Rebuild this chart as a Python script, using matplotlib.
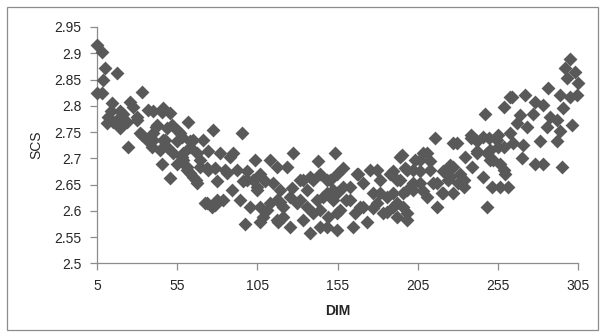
import matplotlib
matplotlib.use("Agg")
import matplotlib.pyplot as plt
from matplotlib.patches import Rectangle

x_ticks = [5, 55, 105, 155, 205, 255, 305]
y_ticks = [2.5, 2.55, 2.6, 2.65, 2.7, 2.75, 2.8, 2.85, 2.9, 2.95]
y_tick_labels = ["2.5", "2.55", "2.6", "2.65", "2.7", "2.75", "2.8", "2.85", "2.9", "2.95"]
x_label = "DIM"
y_label = "SCS"

# DIM, SCS pairs, grouped by DIM range
dim_a = [5, 7.9, 10, 17.3, 8.9, 5, 7.9, 32.9, 14.2, 25.6, 27.7, 37, 12, 21.4, 29.7, 11, 17.3, 23.5,
         19.3, 31.8, 36, 39.1, 24.5, 19.3, 29.7, 14, 15, 33, 40, 40]
scs_a = [2.916, 2.903, 2.871, 2.862, 2.849, 2.824, 2.824, 2.827, 2.805, 2.808, 2.798, 2.792, 2.779,
         2.785, 2.779, 2.767, 2.773, 2.77, 2.757, 2.748, 2.735, 2.722, 2.722, 2.79, 2.773, 2.79, 2.77,
         2.745, 2.79, 2.748]

dim_b = [46.4, 50.5, 62, 42.2, 48.5, 55.7, 40.1, 47.4, 54.7, 63, 71.3, 77.5, 44.3, 52.6, 58.8, 67.1,
         74.3, 45.3, 54.7, 61, 69.3, 74.3, 50.5, 65, 72.4, 76.5, 46.4, 48.5, 57.8, 61, 57.8, 65, 67, 63,
         56.8, 58.7, 63, 67.2, 73.4, 69.3, 42, 45.3, 51.6]
scs_b = [2.795, 2.786, 2.77, 2.763, 2.757, 2.751, 2.735, 2.735, 2.732, 2.732, 2.735, 2.754, 2.716,
         2.71, 2.71, 2.71, 2.713, 2.69, 2.69, 2.678, 2.684, 2.678, 2.662, 2.665, 2.614, 2.608, 2.735,
         2.722, 2.703, 2.683, 2.74, 2.735, 2.659, 2.672, 2.748, 2.697, 2.722, 2.653, 2.681, 2.697,
         2.76, 2.788, 2.763]

dim_c = [95.2, 81.7, 88, 103.6, 112.9, 78.6, 84.8, 92.1, 98.4, 106.7, 79.7, 96.3, 102.5, 109.8, 89,
         104.6, 79.7, 83.8, 94.2, 100.4, 106.7, 112.9, 108.8, 97.3, 106.7, 90, 85.9, 78.6, 98.4, 73.4,
         115, 117.1, 119.2, 104.6, 110.9, 117.1, 118.1, 117.1]
scs_c = [2.748, 2.71, 2.703, 2.697, 2.697, 2.681, 2.678, 2.678, 2.675, 2.671, 2.656, 2.656, 2.659,
         2.656, 2.64, 2.64, 2.62, 2.62, 2.62, 2.608, 2.608, 2.614, 2.589, 2.575, 2.578, 2.71, 2.672,
         2.611, 2.659, 2.615, 2.652, 2.684, 2.64, 2.646, 2.602, 2.62, 2.579, 2.583]

dim_d = [127.5, 143, 123.3, 133.7, 140, 148.3, 126.5, 146.2, 152.4, 119.2, 129.6, 135.8, 144.1, 121.2,
         133.7, 140, 149.3, 125.4, 137.9, 148.3, 153.5, 154.5, 158.7, 152.4, 154.5, 154.5, 131.6,
         137.9, 144.1, 150.4, 135.8, 142, 148.3, 154.5, 125.4, 131.6, 156.6, 158.7, 121.2, 144.1]
scs_d = [2.71, 2.694, 2.684, 2.659, 2.659, 2.659, 2.643, 2.627, 2.64, 2.617, 2.614, 2.608, 2.602,
         2.589, 2.583, 2.595, 2.589, 2.57, 2.557, 2.57, 2.71, 2.671, 2.646, 2.62, 2.595, 2.563, 2.659,
         2.665, 2.671, 2.659, 2.64, 2.62, 2.633, 2.633, 2.627, 2.62, 2.602, 2.681, 2.608, 2.57]

dim_e = [168, 175.3, 181.5, 187.7, 171.2, 177.4, 185.7, 162.8, 171.2, 179.5, 189.8, 166, 183.5, 164.9,
         173.2, 162.8, 167, 179.4, 191.9, 198.1, 194, 195, 197.1, 189.8, 194.2, 198.1, 189.8, 192,
         196.1, 198.2, 191.9, 185.7, 177.4, 169, 196, 160, 181.5, 198.2]
scs_e = [2.671, 2.678, 2.659, 2.671, 2.652, 2.633, 2.627, 2.62, 2.608, 2.614, 2.608, 2.595, 2.595,
         2.57, 2.579, 2.646, 2.671, 2.678, 2.659, 2.678, 2.703, 2.706, 2.681, 2.675, 2.659, 2.64, 2.633,
         2.614, 2.608, 2.595, 2.589, 2.598, 2.605, 2.608, 2.633, 2.62, 2.633, 2.583]

dim_f = [215.9, 227.3, 208.5, 203.3, 212.7, 206.5, 221, 225.3, 202.3, 214.8, 224.2, 208.5, 219.9,
         216.9, 238, 229.4, 234.6, 227.3, 238.7, 230.3, 227.3, 238.1, 231.4, 223.1, 202.3, 212.8,
         206.5, 216.9, 225.3, 233.6, 221, 233.6, 202.3, 210.6, 210.6, 206.5]
scs_f = [2.738, 2.729, 2.71, 2.697, 2.694, 2.675, 2.675, 2.687, 2.652, 2.652, 2.659, 2.637, 2.633,
         2.608, 2.738, 2.729, 2.703, 2.684, 2.684, 2.652, 2.633, 2.744, 2.671, 2.678, 2.678, 2.678,
         2.652, 2.652, 2.665, 2.659, 2.633, 2.646, 2.64, 2.627, 2.71, 2.697]

dim_g = [263.8, 258.6, 247.1, 246, 254.4, 250.2, 258.6, 242.3, 252.1, 258.6, 246, 251.2, 256.4, 261.6,
         248.5, 242.3, 249.6, 254.8, 248.5, 254.8, 250.2, 256.4, 259.5, 262.6, 264.7, 266.8, 268.9,
         262.6, 269.8, 242.3]
scs_g = [2.817, 2.798, 2.785, 2.741, 2.735, 2.716, 2.722, 2.71, 2.697, 2.678, 2.665, 2.646, 2.646,
         2.646, 2.608, 2.732, 2.738, 2.744, 2.71, 2.722, 2.697, 2.69, 2.671, 2.748, 2.729, 2.767,
         2.782, 2.817, 2.70, 2.713]

dim_h = [300, 297, 303, 298, 305, 286.5, 293.9, 300, 304.2, 272, 278.2, 283.4, 295.9, 277.2, 287.6,
         291.8, 301.2, 273, 285.5, 293.9, 291.8, 281.4, 271, 278.2, 283.4, 294.9]
scs_h = [2.89, 2.871, 2.865, 2.852, 2.843, 2.833, 2.82, 2.817, 2.82, 2.82, 2.808, 2.802, 2.795, 2.785,
         2.779, 2.773, 2.763, 2.76, 2.76, 2.751, 2.732, 2.732, 2.725, 2.69, 2.69, 2.684]

dim = dim_a + dim_b + dim_c + dim_d + dim_e + dim_f + dim_g + dim_h
scs = scs_a + scs_b + scs_c + scs_d + scs_e + scs_f + scs_g + scs_h

W, H = 605, 336
fig = plt.figure(figsize=(W / 100, H / 100), dpi=100)
fig.patch.set_facecolor("white")
fig.patches.append(Rectangle((7 / W, 1 - 330 / H), 591 / W, 323 / H, transform=fig.transFigure,
                             fill=False, edgecolor="#8c8c8c", linewidth=0.9))

ax = fig.add_axes([97 / W, 1 - 263.3 / H, 481 / W, 236.3 / H])
ax.scatter(dim, scs, marker="D", s=50, color="#595959", linewidths=0, zorder=3, clip_on=False)

ax.set_xlim(5, 305)
ax.set_ylim(2.5, 2.95)
ax.set_xticks(x_ticks)
ax.set_xticklabels([str(t) for t in x_ticks])
ax.set_yticks(y_ticks)
ax.set_yticklabels(y_tick_labels)

for s in ["top", "right"]:
    ax.spines[s].set_visible(False)
for s in ["left", "bottom"]:
    ax.spines[s].set_color("#8c8c8c")
    ax.spines[s].set_linewidth(0.9)
ax.tick_params(axis="both", direction="out", length=5, width=0.9, color="#8c8c8c",
               labelsize=10, labelcolor="#262626", pad=6)
for lab in ax.get_xticklabels() + ax.get_yticklabels():
    lab.set_family("Liberation Sans")

ax.set_xlabel(x_label, fontsize=10, fontweight="bold", family="Liberation Sans", color="#262626",
              labelpad=8)
ax.set_ylabel(y_label, fontsize=10, family="Liberation Sans", color="#262626", labelpad=8)

fig.savefig("out.png", dpi=100, facecolor="white")
